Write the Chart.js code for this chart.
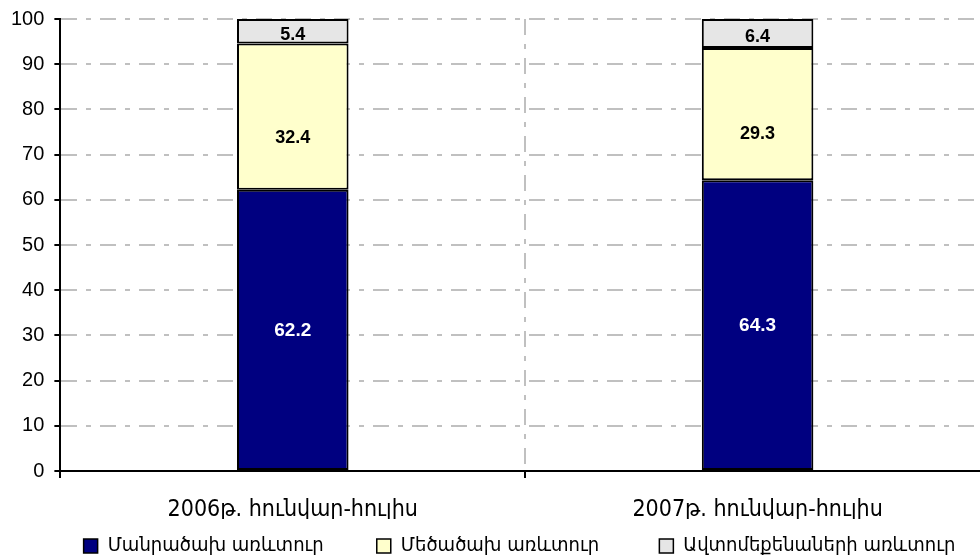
<!DOCTYPE html>
<html>
<head>
<meta charset="utf-8">
<script src="https://cdn.jsdelivr.net/npm/chart.js@4.4.0/dist/chart.umd.min.js"></script>
<style>
  html, body { margin: 0; padding: 0; background: #fff; overflow: hidden; }
  #wrap { width: 990px; height: 560px; }
</style>
</head>
<body>
<div id="wrap"><canvas id="chart"></canvas></div>
<script>
var categories = ["2006թ. հունվար-հուլիս", "2007թ. հունվար-հուլիս"];
var retail = [62.2, 64.3];
var wholesale = [32.4, 29.3];
var autoTrade = [5.4, 6.4];
var seriesNames = ["Մանրածախ առևտուր", "Մեծածախ առևտուր", "Ավտոմեքենաների առևտուր"];

var gridDash = [16, 9, 5, 9];
// extra gap after each legend entry (last one none)
var legendGaps = ['\u2003\u2003', '\u2003\u2003\u2009\u2009', ''];
// where the value label sits inside a segment (0 = bottom, 1 = top)
var labelPos = [0.5, 0.36, 0.4];

// value labels inside each segment
var barLabels = {
  id: 'barLabels',
  afterDatasetsDraw: function(chart) {
    var ctx = chart.ctx;
    ctx.save();
    ctx.textAlign = 'center';
    ctx.textBaseline = 'middle';
    chart.data.datasets.forEach(function(ds, i) {
      var meta = chart.getDatasetMeta(i);
      meta.data.forEach(function(bar, j) {
        var y = bar.base + (bar.y - bar.base) * labelPos[i];
        if (i == 0) {
          ctx.fillStyle = '#fff';
          ctx.font = 'bold 19px "Liberation Sans", Arial';
        } else {
          ctx.fillStyle = '#000';
          ctx.font = 'bold 18px "Liberation Sans", Arial';
        }
        ctx.fillText(ds.data[j].toFixed(1), bar.x, y + 1);
      });
    });
    ctx.restore();
  }
};

// nudge the legend a bit to the right, like the original
var legendShift = {
  id: 'legendShift',
  afterLayout: function(chart) {
    chart.legend.left += 24;
    chart.legend.right += 24;
  }
};

var ctx = document.getElementById("chart").getContext("2d");
new Chart(ctx, {
  type: "bar",
  data: {
    labels: categories,
    datasets: [{
      label: seriesNames[0],
      data: retail,
      backgroundColor: "#000080",
      borderColor: "#000",
      borderWidth: 2,
      borderSkipped: false,
      barPercentage: 0.24,
      categoryPercentage: 1
    }, {
      label: seriesNames[1],
      data: wholesale,
      backgroundColor: "#ffffcc",
      borderColor: "#000",
      borderWidth: 2,
      borderSkipped: false,
      barPercentage: 0.24,
      categoryPercentage: 1
    }, {
      label: seriesNames[2],
      data: autoTrade,
      backgroundColor: "#e6e6e6",
      borderColor: "#000",
      borderWidth: 2,
      borderSkipped: false,
      barPercentage: 0.24,
      categoryPercentage: 1
    }]
  },
  options: {
    responsive: true,
    maintainAspectRatio: false,
    animation: false,
    layout: { padding: { top: 0, left: 1, right: 0, bottom: 0 } },
    plugins: {
      legend: {
        position: 'bottom',
        maxHeight: 41,
        labels: {
          color: '#000',
          boxWidth: 14,
          boxHeight: 14,
          padding: 17,
          font: { size: 20, family: '"DejaVu Sans Condensed", "DejaVu Sans", sans-serif' },
          generateLabels: function(chart) {
            var items = Chart.defaults.plugins.legend.labels.generateLabels(chart);
            items.forEach(function(it, i) {
              it.lineWidth = 1.5;
              it.strokeStyle = '#000';
              it.text = it.text + legendGaps[i];
            });
            return items;
          }
        }
      },
      tooltip: { enabled: false }
    },
    scales: {
      x: {
        stacked: true,
        offset: true,
        afterFit: function(scale) { scale.height = 48; },
        grid: {
          display: true,
          offset: true,
          drawOnChartArea: true,
          drawTicks: true,
          tickLength: 7,
          tickColor: '#000',
          tickWidth: 2,
          color: '#c0c0c0',
          lineWidth: 2
        },
        border: { display: true, color: '#000', width: 2, dash: gridDash },
        ticks: {
          color: '#000',
          padding: 18,
          font: { size: 23, family: '"DejaVu Sans Condensed", "DejaVu Sans", sans-serif' }
        }
      },
      y: {
        stacked: true,
        min: 0,
        max: 100,
        afterFit: function(scale) { scale.paddingTop = 19; },
        grid: {
          display: true,
          drawTicks: true,
          tickLength: 6,
          tickColor: '#000',
          tickWidth: 2,
          color: '#c0c0c0',
          lineWidth: 2
        },
        border: { display: true, color: '#000', width: 2, dash: gridDash },
        ticks: {
          stepSize: 10,
          color: '#000',
          padding: 10,
          font: { size: 20, family: '"Liberation Sans", Arial' }
        }
      }
    }
  },
  plugins: [barLabels, legendShift]
});
</script>
</body>
</html>
